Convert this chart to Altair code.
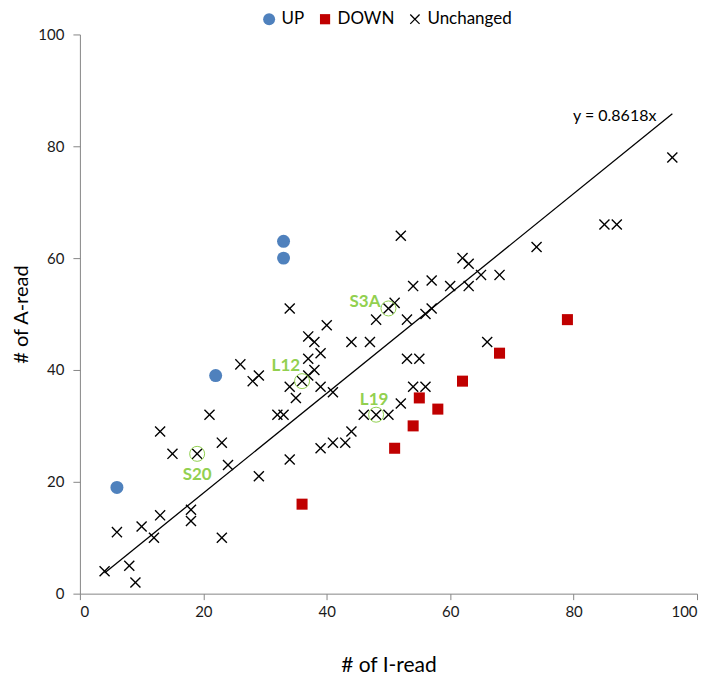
import altair as alt
import pandas as pd

# ---- data ----
up_x = [6, 22, 33, 33]
up_y = [19, 39, 60, 63]

down_x = [36, 51, 54, 55, 58, 62, 68, 79]
down_y = [16, 26, 30, 35, 33, 38, 43, 49]

unch_x = [4, 8, 9, 6, 10, 12, 13, 18, 18, 23, 15, 19, 13, 24, 23, 29, 21, 34, 32, 33,
          26, 28, 29, 34, 35, 34, 36, 37, 37, 38, 39, 41, 39, 37, 38, 40, 44, 47, 39, 41,
          43, 44, 46, 48, 50, 52, 48, 50, 51, 53, 56, 57, 53, 55, 54, 56, 52, 54, 57, 60,
          63, 62, 63, 65, 68, 66, 74, 85, 87, 96]
unch_y = [4, 5, 2, 11, 12, 10, 14, 15, 13, 10, 25, 25, 29, 23, 27, 21, 32, 24, 32, 32,
          41, 38, 39, 37, 35, 51, 38, 39, 42, 40, 37, 36, 43, 46, 45, 48, 45, 45, 26, 27,
          27, 29, 32, 32, 32, 34, 49, 51, 52, 49, 50, 51, 42, 42, 37, 37, 64, 55, 56, 55,
          55, 60, 59, 57, 57, 45, 62, 66, 66, 78]

categories = ["UP", "DOWN", "Unchanged"]
cat_colors = ["#4F81BD", "#C00000", "#000000"]

trend_x = [4, 96]
trend_y = [3.7, 85.8]
trend_label = "y = 0.8618x"

hl_names = ["S3A", "L12", "L19", "S20"]
hl_x = [50, 36, 48, 19]
hl_y = [51, 38, 32, 25]

x_ticks = [0, 20, 40, 60, 80, 100]
y_ticks = [0, 20, 40, 60, 80, 100]

# ---- tables ----
pts = pd.DataFrame({
    "x": up_x + down_x + unch_x,
    "y": up_y + down_y + unch_y,
    "type": ["UP"] * len(up_x) + ["DOWN"] * len(down_x) + ["Unchanged"] * len(unch_x),
})
trend = pd.DataFrame({"x": trend_x, "y": trend_y})
hl = pd.DataFrame({"x": hl_x, "y": hl_y, "name": hl_names})

FONT = "Lato"
GREEN = "#92D050"

square_path = "M-0.85,-0.85L0.85,-0.85L0.85,0.85L-0.85,0.85Z"
cross_path = ("M0,-0.15L0.7,-0.85L0.85,-0.7L0.15,0L0.85,0.7L0.7,0.85L0,0.15"
              "L-0.7,0.85L-0.85,0.7L-0.15,0L-0.85,-0.7L-0.7,-0.85Z")

xs = alt.Scale(domain=[0, 100], nice=False, zero=False)
ys = alt.Scale(domain=[0, 100], nice=False, zero=False)

x_axis = alt.Axis(title="# of I-read", values=x_ticks, grid=False, tickSize=6,
                  labelPadding=5, titlePadding=35, titleFontSize=21,
                  labelFontSize=15, titleFontWeight="normal")
y_axis = alt.Axis(title="# of A-read", values=y_ticks, grid=False, tickSize=7,
                  labelPadding=9, titlePadding=6, titleFontSize=20,
                  labelFontSize=15, titleFontWeight="normal")

line = alt.Chart(trend).mark_line(color="black", strokeWidth=1.3).encode(
    x=alt.X("x:Q", scale=xs, axis=x_axis),
    y=alt.Y("y:Q", scale=ys, axis=y_axis),
)

points = alt.Chart(pts).mark_point(filled=True, opacity=1, size=169, strokeWidth=0).encode(
    x=alt.X("x:Q", scale=xs),
    y=alt.Y("y:Q", scale=ys),
    color=alt.Color("type:N", scale=alt.Scale(domain=categories, range=cat_colors),
                    legend=alt.Legend(orient="none", legendX=181, legendY=-24,
                                      direction="horizontal", title=None,
                                      labelFont=FONT, labelFontSize=17,
                                      labelColor="black", symbolSize=144,
                                      symbolStrokeWidth=0, columnPadding=12,
                                      labelOffset=4, padding=0)),
    shape=alt.Shape("type:N", scale=alt.Scale(domain=categories,
                                              range=["circle", square_path, cross_path])),
)

rings = alt.Chart(hl).mark_point(shape="circle", filled=False, size=225,
                                 color=GREEN, strokeWidth=1, opacity=1).encode(
    x=alt.X("x:Q", scale=xs), y=alt.Y("y:Q", scale=ys))

offsets = {"S3A": ("right", -8, -6), "L12": ("right", -2, -15),
           "L19": ("center", -2, -15), "S20": ("center", 0, 21)}
labels = []
for nm in hl_names:
    al, dx, dy = offsets[nm]
    labels.append(
        alt.Chart(hl[hl["name"] == nm]).mark_text(
            font=FONT, fontSize=17, fontWeight="bold", color=GREEN,
            align=al, baseline="middle", dx=dx, dy=dy).encode(
            x=alt.X("x:Q", scale=xs), y=alt.Y("y:Q", scale=ys), text="name:N"))

eq = alt.Chart(trend.tail(1).assign(t=trend_label)).mark_text(
    font=FONT, fontSize=16, color="black", align="right", baseline="middle",
    dx=-16, dy=2).encode(
    x=alt.X("x:Q", scale=xs), y=alt.Y("y:Q", scale=ys), text="t:N")

chart = alt.layer(line, points, rings, *labels, eq).properties(
    width=618, height=560,
    autosize=alt.AutoSizeParams(type="none"),
    padding={"left": 72, "top": 26, "right": 12, "bottom": 85},
).configure_view(stroke=None).configure_axis(
    domainColor="#868686", tickColor="#868686", labelColor="#1a1a1a",
    titleColor="black", labelFont=FONT, titleFont=FONT,
)

chart.save("out.html", embed_options={"renderer": "svg", "actions": False})
